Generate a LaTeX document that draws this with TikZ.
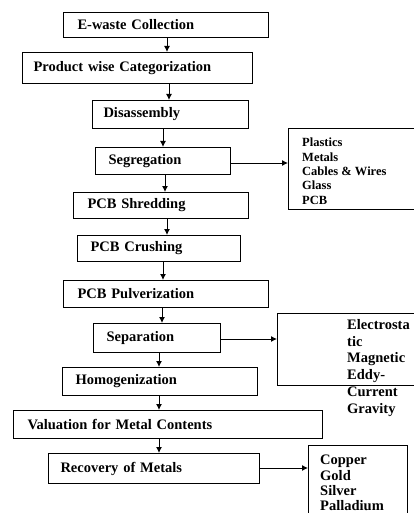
\documentclass[tikz,border=0pt]{standalone}
\usepackage{fontspec}
\setmainfont{Liberation Serif}
\usetikzlibrary{arrows.meta}
\tikzset{
  stage/.style={draw, line width=1pt, anchor=north west, align=left, inner ysep=0pt,
    font=\fontsize{14.5}{17}\selectfont\bfseries},
  sidebox/.style={draw, line width=1pt, anchor=north west, inner sep=0pt},
  listtext/.style={anchor=north west, align=left, inner sep=0pt},
  arr/.style={line width=1pt, -{Latex[length=6pt,width=6pt]}}
}
\begin{document}
\begin{tikzpicture}[x=1pt,y=-1pt]
\useasboundingbox (0,0) rectangle (414,513);
\clip (0,0) rectangle (414,513);
\fill[white] (0,0) rectangle (414,513);
% main stages
\node[stage, minimum width=205, minimum height=25, inner xsep=14, text width=177] (s1) at (63,12) {E-waste Collection};
\node[stage, minimum width=230, minimum height=31, inner xsep=11, text width=208] (s2) at (22,52) {Product wise Categorization};
\node[stage, minimum width=156, minimum height=28, inner xsep=11, text width=134] (s3) at (92,100) {Disassembly};
\node[stage, minimum width=135, minimum height=27, inner xsep=13, text width=109] (s4) at (95,147) {Segregation};
\node[stage, minimum width=175, minimum height=26, inner xsep=14, text width=147] (s5) at (73,192) {PCB Shredding};
\node[stage, minimum width=163, minimum height=26, inner xsep=13, text width=137] (s6) at (77,235) {PCB Crushing};
\node[stage, minimum width=205, minimum height=27, inner xsep=14, text width=177] (s7) at (63,280) {PCB Pulverization};
\node[stage, minimum width=127, minimum height=29, inner xsep=13, text width=101] (s8) at (93,323) {Separation};
\node[stage, minimum width=195, minimum height=28, inner xsep=13, text width=169] (s9) at (62,367) {Homogenization};
\node[stage, minimum width=309, minimum height=28, inner xsep=14, text width=281] (s10) at (13,410) {Valuation for Metal Contents};
\node[stage, minimum width=211, minimum height=30, inner xsep=12, text width=187] (s11) at (48,453) {Recovery of Metals};
% side boxes
\node[sidebox, minimum width=130, minimum height=81] (b1) at (288,128) {};
\node[listtext, font=\fontsize{12.5}{14.3}\selectfont\bfseries] (t1) at (302,138) {Plastics\\Metals\\Cables \& Wires\\Glass\\PCB};
\node[sidebox, minimum width=141, minimum height=72] (b2) at (277,313) {};
\node[listtext, font=\fontsize{14.5}{16.8}\selectfont\bfseries] (t2) at (347,319) {Electrosta\\tic\\Magnetic\\Eddy-\\Current\\Gravity};
\node[sidebox, minimum width=99, minimum height=80] (b3) at (308,445) {};
\node[listtext, font=\fontsize{14.5}{15.3}\selectfont\bfseries] (t3) at (320,455) {Copper\\Gold\\Silver\\Palladium};
% vertical arrows
\draw[arr] (167,0 |- s1.south) -- (167,0 |- s2.north);
\draw[arr] (169,0 |- s2.south) -- (169,0 |- s3.north);
\draw[arr] (163,0 |- s3.south) -- (163,0 |- s4.north);
\draw[arr] (165,0 |- s4.south) -- (165,0 |- s5.north);
\draw[arr] (167,0 |- s5.south) -- (167,0 |- s6.north);
\draw[arr] (163,0 |- s6.south) -- (163,0 |- s7.north);
\draw[arr] (162,0 |- s7.south) -- (162,0 |- s8.north);
\draw[arr] (159,0 |- s8.south) -- (159,0 |- s9.north);
\draw[arr] (159,0 |- s9.south) -- (159,0 |- s10.north);
\draw[arr] (159,0 |- s10.south) -- (159,0 |- s11.north);
% side arrows
\draw[arr] (s4.east |- 0,163) -- (b1.west |- 0,163);
\draw[arr] (s8.east |- 0,339) -- (b2.west |- 0,339);
\draw[arr] (s11.east |- 0,468) -- (b3.west |- 0,468);
\end{tikzpicture}
\end{document}
